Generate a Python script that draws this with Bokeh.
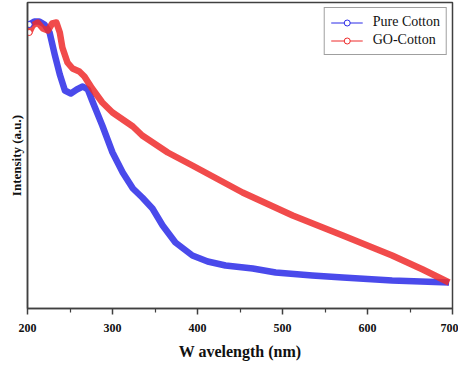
from bokeh.plotting import figure
from bokeh.models import Range1d, FixedTicker, Legend, LegendItem
from bokeh.embed import file_html
from bokeh.resources import INLINE

# Wavelength (nm) and intensity (a.u.)
pure_wl = [202, 208, 214, 220, 226, 232, 238, 244, 251, 258, 265, 271, 276, 288, 300,
           312, 324, 335, 347, 359, 374, 394, 412, 433, 465, 492, 535, 571, 629, 696]
pure_int = [2.84, 2.87, 2.87, 2.84, 2.76, 2.54, 2.34, 2.18, 2.15, 2.19, 2.22, 2.19, 2.08, 1.83, 1.56,
            1.36, 1.20, 1.11, 1.00, 0.83, 0.66, 0.53, 0.47, 0.43, 0.40, 0.36, 0.33, 0.31, 0.28, 0.26]

go_wl = [202, 206, 212, 218, 224, 229, 234, 238, 241, 247, 253, 261, 267, 276, 288,
         300, 324, 335, 365, 394, 453, 512, 571, 629, 665, 696]
go_int = [2.76, 2.83, 2.86, 2.80, 2.78, 2.85, 2.86, 2.76, 2.61, 2.46, 2.40, 2.37, 2.32, 2.20, 2.06,
          1.96, 1.82, 1.73, 1.56, 1.43, 1.16, 0.93, 0.73, 0.53, 0.39, 0.26]

x_ticks = [200, 300, 400, 500, 600, 700]
x_minor = [250, 350, 450, 550, 650]

BLUE = "#2a2ae8"
RED = "#ee2b2b"
FRAME = "#404040"
SERIF = "Liberation Serif"

p = figure(width=458, height=368, output_backend="svg", toolbar_location=None,
           x_range=Range1d(200, 700), y_range=Range1d(0, 3.06),
           min_border_left=27, min_border_right=6, min_border_top=2, min_border_bottom=60)

p.xgrid.visible = False
p.ygrid.visible = False
p.outline_line_color = FRAME
p.outline_line_width = 1.5
p.background_fill_color = "white"
p.border_fill_color = "white"

# series bands (dense hollow-circle ribbons in the original)
for wl, it, col in [(pure_wl, pure_int, BLUE), (go_wl, go_int, RED)]:
    p.line(wl, it, line_color=col, line_width=6.5, line_alpha=0.85, line_join="round")

# x axis
xa = p.xaxis[0]
xa.ticker = FixedTicker(ticks=x_ticks, minor_ticks=x_minor)
xa.axis_line_color = FRAME
xa.axis_line_width = 1.5
xa.major_tick_line_color = FRAME
xa.major_tick_line_width = 1.5
xa.major_tick_in = 0
xa.major_tick_out = 6
xa.minor_tick_line_color = FRAME
xa.minor_tick_line_width = 1.2
xa.minor_tick_in = 0
xa.minor_tick_out = 4
xa.major_label_text_font = SERIF
xa.major_label_text_font_style = "bold"
xa.major_label_text_font_size = "12px"
xa.major_label_text_color = "#111111"
xa.major_label_standoff = 9
xa.axis_label = "W avelength (nm)"
xa.axis_label_text_font = SERIF
xa.axis_label_text_font_style = "bold"
xa.axis_label_text_font_size = "16px"
xa.axis_label_text_color = "#111111"
xa.axis_label_standoff = 8

# y axis (no ticks)
ya = p.yaxis[0]
ya.ticker = FixedTicker(ticks=[])
ya.axis_line_color = FRAME
ya.axis_line_width = 1.5
ya.major_tick_line_color = None
ya.minor_tick_line_color = None
ya.axis_label = "Intensity (a.u.)"
ya.axis_label_text_font = SERIF
ya.axis_label_text_font_style = "bold"
ya.axis_label_text_font_size = "13px"
ya.axis_label_text_color = "#111111"
ya.axis_label_standoff = 4

# legend proxies (thin line with a hollow circle)
lb = p.line(pure_wl[:1], pure_int[:1], line_color=BLUE, line_width=1)
sb = p.scatter(pure_wl[:1], pure_int[:1], marker="circle", size=6, line_color=BLUE, fill_color="white")
lr = p.line(go_wl[:1], go_int[:1], line_color=RED, line_width=1)
sr = p.scatter(go_wl[:1], go_int[:1], marker="circle", size=6, line_color=RED, fill_color="white")

legend = Legend(items=[LegendItem(label="Pure Cotton", renderers=[lb, sb]),
                       LegendItem(label="GO-Cotton", renderers=[lr, sr])],
                location="top_right")
legend.label_text_font = SERIF
legend.label_text_font_size = "14px"
legend.label_text_color = "#111111"
legend.glyph_width = 32
legend.glyph_height = 15
legend.label_height = 15
legend.spacing = 2
legend.padding = 6
legend.margin = 5
legend.label_standoff = 10
legend.border_line_color = FRAME
legend.border_line_width = 1.2
legend.background_fill_alpha = 1.0
p.add_layout(legend)

open("out.html", "w").write(file_html(p, INLINE))
